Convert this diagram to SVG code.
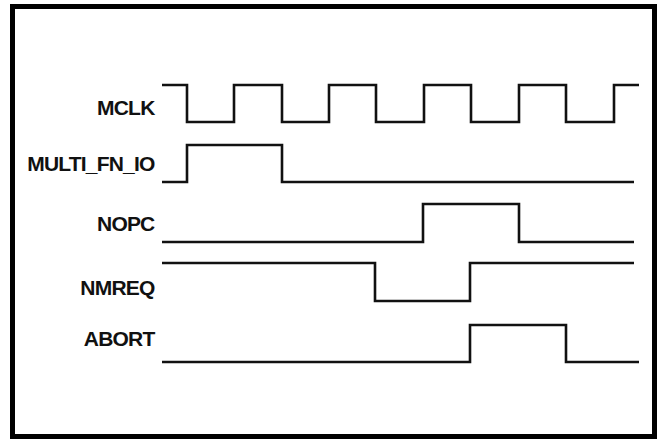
<svg xmlns="http://www.w3.org/2000/svg" width="659" height="440" viewBox="0 0 659 440">
<style>
.lbl{font-family:"Liberation Sans",Arial,Helvetica,sans-serif;font-weight:bold;font-size:21px;letter-spacing:-0.8px;fill:#111;text-anchor:end}
.sig{fill:none;stroke:#111;stroke-width:2.6;stroke-linejoin:miter}
</style>
<rect x="0" y="0" width="659" height="440" fill="#fff"/>
<rect x="12.5" y="6.5" width="642" height="430" fill="#fff" stroke="#000" stroke-width="5"/>
<g id="MCLK"><text class="lbl" x="154.5" y="115">MCLK</text></g>
<g id="MULTI_FN_IO"><text class="lbl" x="154.5" y="171">MULTI_FN_IO</text></g>
<g id="NOPC"><text class="lbl" x="154.5" y="231">NOPC</text></g>
<g id="NMREQ"><text class="lbl" x="154.5" y="295">NMREQ</text></g>
<g id="ABORT"><text class="lbl" x="154.5" y="346">ABORT</text></g>
<g id="connectors">
<path class="sig" d="M162 85H187V122H234V85H282V122H329V85H376V122H424V85H471V122H519V85H566V122H614V85H639"/>
<path class="sig" d="M162 182H187V145H282V182H634"/>
<path class="sig" d="M162 242H423V204H519V242H634"/>
<path class="sig" d="M162 263H375V301H470V263H634"/>
<path class="sig" d="M162 362H470V325H566V362H639"/>
</g>
</svg>
